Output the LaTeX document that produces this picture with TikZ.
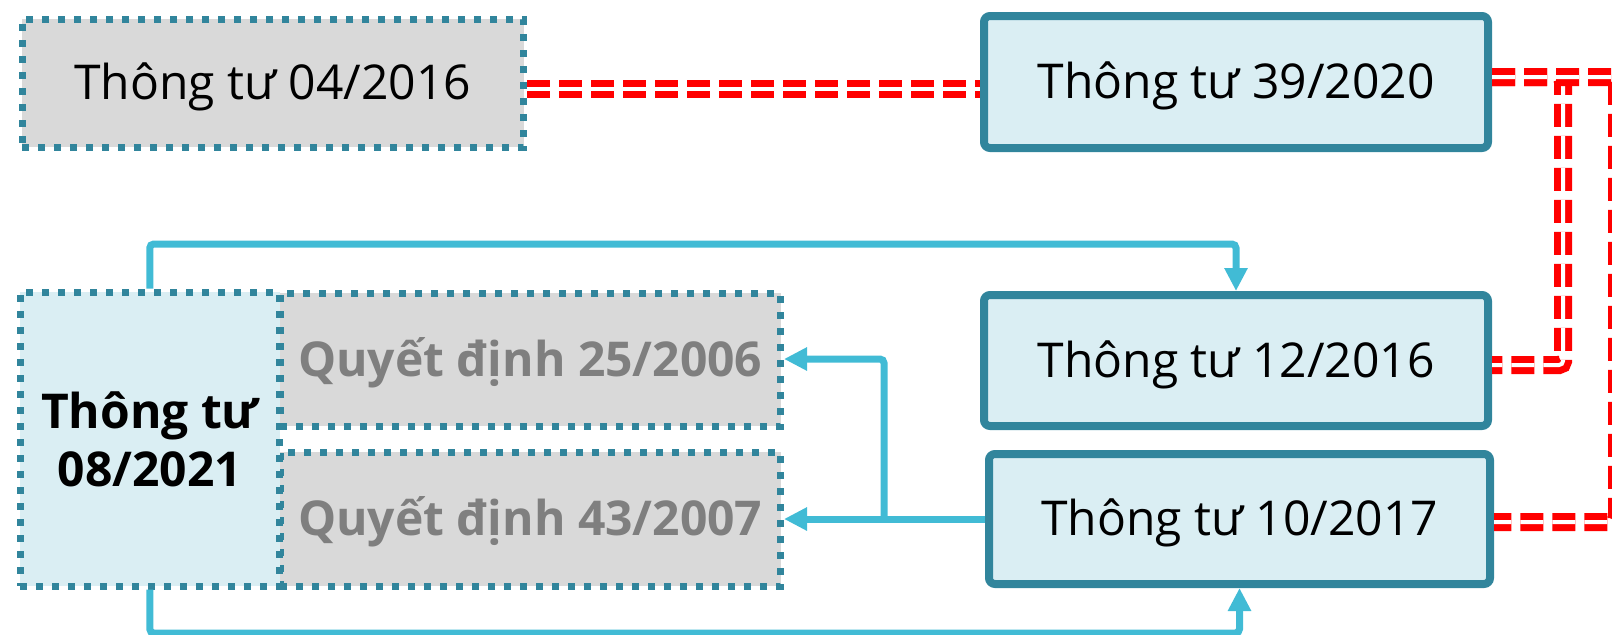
\documentclass[tikz,border=0pt]{standalone}
\usepackage{fontspec}
\setmainfont{Open Sans}
\usetikzlibrary{arrows.meta}
\definecolor{tealb}{HTML}{31859C}
\definecolor{lightb}{HTML}{DAEEF3}
\definecolor{grayf}{HTML}{D9D9D9}
\definecolor{grayt}{HTML}{7F7F7F}
\definecolor{blueln}{HTML}{41BBD5}
\definecolor{redln}{HTML}{FF0000}
\begin{document}
\begin{tikzpicture}[x=0.5pt,y=-0.5pt,
  txt/.style={font=\fontsize{24}{29}\selectfont, text=black, align=center, inner sep=0pt},
  oneline/.style={text height=22.3pt, text depth=5.5pt},
  dotbox/.style={txt, draw=tealb, line width=3.5pt, dash pattern=on 3.5pt off 4.5pt},
  solidbox/.style={txt, oneline, draw=tealb, fill=lightb, line width=4pt, rounded corners=3pt},
  qdbox/.style={dotbox, oneline, fill=grayf, text=grayt, font=\fontsize{24}{29}\selectfont\bfseries},
  reddbl/.style={draw=redln, line width=3.5pt, double=white, double distance=2pt, dash pattern=on 11.5pt off 4.5pt, rounded corners=2pt},
  bluearr/.style={draw=blueln, line width=3.5pt, rounded corners=2pt, -{Triangle[length=11.5pt,width=11pt]}},
  blueln/.style={draw=blueln, line width=3.5pt, rounded corners=2pt}
]
\useasboundingbox (0,0) rectangle (1612,634);
\clip (0,0) rectangle (1612,634);

% boxes
\node[dotbox, oneline, fill=grayf, minimum width=250.75pt, minimum height=64pt] (n04) at (272.75,83) {Thông tư 04/2016};
\node[solidbox, minimum width=252pt, minimum height=66pt] (n39) at (1236,82) {Thông tư 39/2020};
\node[solidbox, minimum width=252pt, minimum height=65.5pt] (n12) at (1236,360.5) {Thông tư 12/2016};
\node[solidbox, minimum width=250.5pt, minimum height=65pt] (n10) at (1239.5,519) {Thông tư 10/2017};
\node[qdbox, minimum width=250.25pt, minimum height=66.5pt] (n25) at (530.25,359.5) {Quyết định 25/2006};
\node[qdbox, minimum width=250.25pt, minimum height=67pt] (n43) at (530.25,519) {Quyết định 43/2007};
\node[dotbox, fill=lightb, font=\fontsize{24}{29}\selectfont\bfseries, minimum width=129.75pt, minimum height=147pt] (n08) at (149.75,439) {Thông tư\\08/2021};

% red double dashed connectors
\draw[reddbl] (n04.east |- 0,89) -- (n39.west |- 0,89);
\draw[reddbl] (n39.east |- 0,77) -- (1563,77) -- (1563,365) -- (n12.east |- 0,365);
\draw[reddbl] (n39.east |- 0,77) -- (1617,77) -- (1617,522) -- (n10.east |- 0,522);

% blue connectors
\coordinate (j) at (884,519);
\draw[bluearr] (n08.north) -- (n08.north |- 0,244) -| (n12.north);
\draw[bluearr] (n08.south) -- (n08.south |- 0,633) -| (n10.south);
\draw[blueln] (n10.west) -- (j);
\draw[bluearr] (j) -- (n43.east |- j);
\draw[bluearr] (j) |- (n25.east |- 0,359);
\end{tikzpicture}
\end{document}
